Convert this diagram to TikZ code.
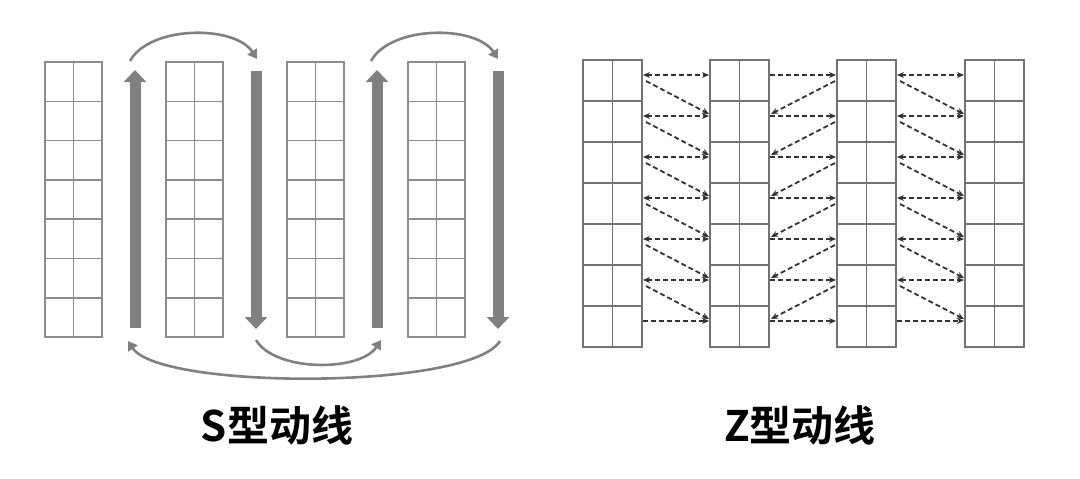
\documentclass[tikz,border=0pt]{standalone}
\usepackage{fontspec}
\newfontfamily\cjk{Noto Sans CJK SC}[BoldFont={Noto Sans CJK SC Bold}]
\usetikzlibrary{arrows.meta}
\begin{document}
\begin{tikzpicture}[x=1pt,y=-1pt,
  lgrid/.style={draw=black!45,line width=1.5pt},
  rgrid/.style={draw=black!55,line width=1.4pt},
  bigarr/.style={draw=black!50,line width=11pt,-{Triangle[length=12pt,width=22pt]}},
  arcarr/.style={draw=black!50,line width=2.6pt,-{Triangle[length=9pt,width=11pt]}},
  dashone/.style={draw=black!80,line width=1.8pt,dash pattern=on 5pt off 3pt,-{Stealth[length=7pt,width=6pt]}},
  dashtwo/.style={draw=black!80,line width=1.8pt,dash pattern=on 5pt off 3pt,{Stealth[length=7pt,width=6pt]}-{Stealth[length=7pt,width=6pt]}},
  lbl/.style={font=\cjk\bfseries\fontsize{42}{42}\selectfont}]
\useasboundingbox (0,0) rectangle (1080,479);
% left grids
\foreach \x in {45,166,287,408}{
  \foreach \r in {0,...,6}{
    \draw[lgrid] (\x,62+\r*39.3) rectangle (\x+28.5,62+\r*39.3+39.3);
    \draw[lgrid] (\x+28.5,62+\r*39.3) rectangle (\x+57,62+\r*39.3+39.3);
  }
}
\coordinate (u1s) at (135,328); \coordinate (u1e) at (135,70);
\coordinate (d1s) at (256,71); \coordinate (d1e) at (256,329);
\coordinate (u2s) at (377,328); \coordinate (u2e) at (377,70);
\coordinate (d2s) at (498,71); \coordinate (d2e) at (498,329);
\draw[bigarr] (u1s) -- (u1e);
\draw[bigarr] (d1s) -- (d1e);
\draw[bigarr] (u2s) -- (u2e);
\draw[bigarr] (d2s) -- (d2e);
\coordinate (a1) at (130,61); \coordinate (b1) at (257,59);
\coordinate (a2) at (371,61); \coordinate (b2) at (498,59);
\draw[arcarr] (a1) .. controls (150,25) and (235,25) .. (b1);
\draw[arcarr] (a2) .. controls (391,25) and (476,25) .. (b2);
\coordinate (c1) at (256,340); \coordinate (e1) at (381,340);
\draw[arcarr] (c1) .. controls (275,372) and (360,372) .. (e1);
\coordinate (c2) at (500,341); \coordinate (e2) at (128,341);
\draw[arcarr] (c2) .. controls (470,390) and (160,390) .. (e2);
\node[lbl] (sl) at (277,425) {S型动线};
% right grids
\foreach \x in {583,710,837,965}{
  \foreach \r in {0,...,6}{
    \draw[rgrid] (\x,60+\r*41) rectangle (\x+29.5,60+\r*41+41);
    \draw[rgrid] (\x+29.5,60+\r*41) rectangle (\x+59,60+\r*41+41);
  }
}
\foreach \L/\R in {642/710,896/965}{
  \foreach \r in {0,...,6}{
    \pgfmathsetmacro{\yy}{75+\r*41}
    \ifnum\r<6
      \draw[dashtwo] (\L+1,\yy) -- (\R-1,\yy);
      \draw[dashone] (\L+4,\yy+6) -- (\R-1,\yy+39);
    \else
      \draw[dashone] (\L+1,\yy) -- (\R-1,\yy);
    \fi
  }
}
\foreach \r in {0,...,6}{
  \pgfmathsetmacro{\yy}{75+\r*41}
  \draw[dashone] (770,\yy) -- (836,\yy);
  \ifnum\r<6
    \draw[dashone] (835,\yy+6) -- (771,\yy+39);
  \fi
}
\node[lbl] (zl) at (800,425) {Z型动线};
\end{tikzpicture}
\end{document}
